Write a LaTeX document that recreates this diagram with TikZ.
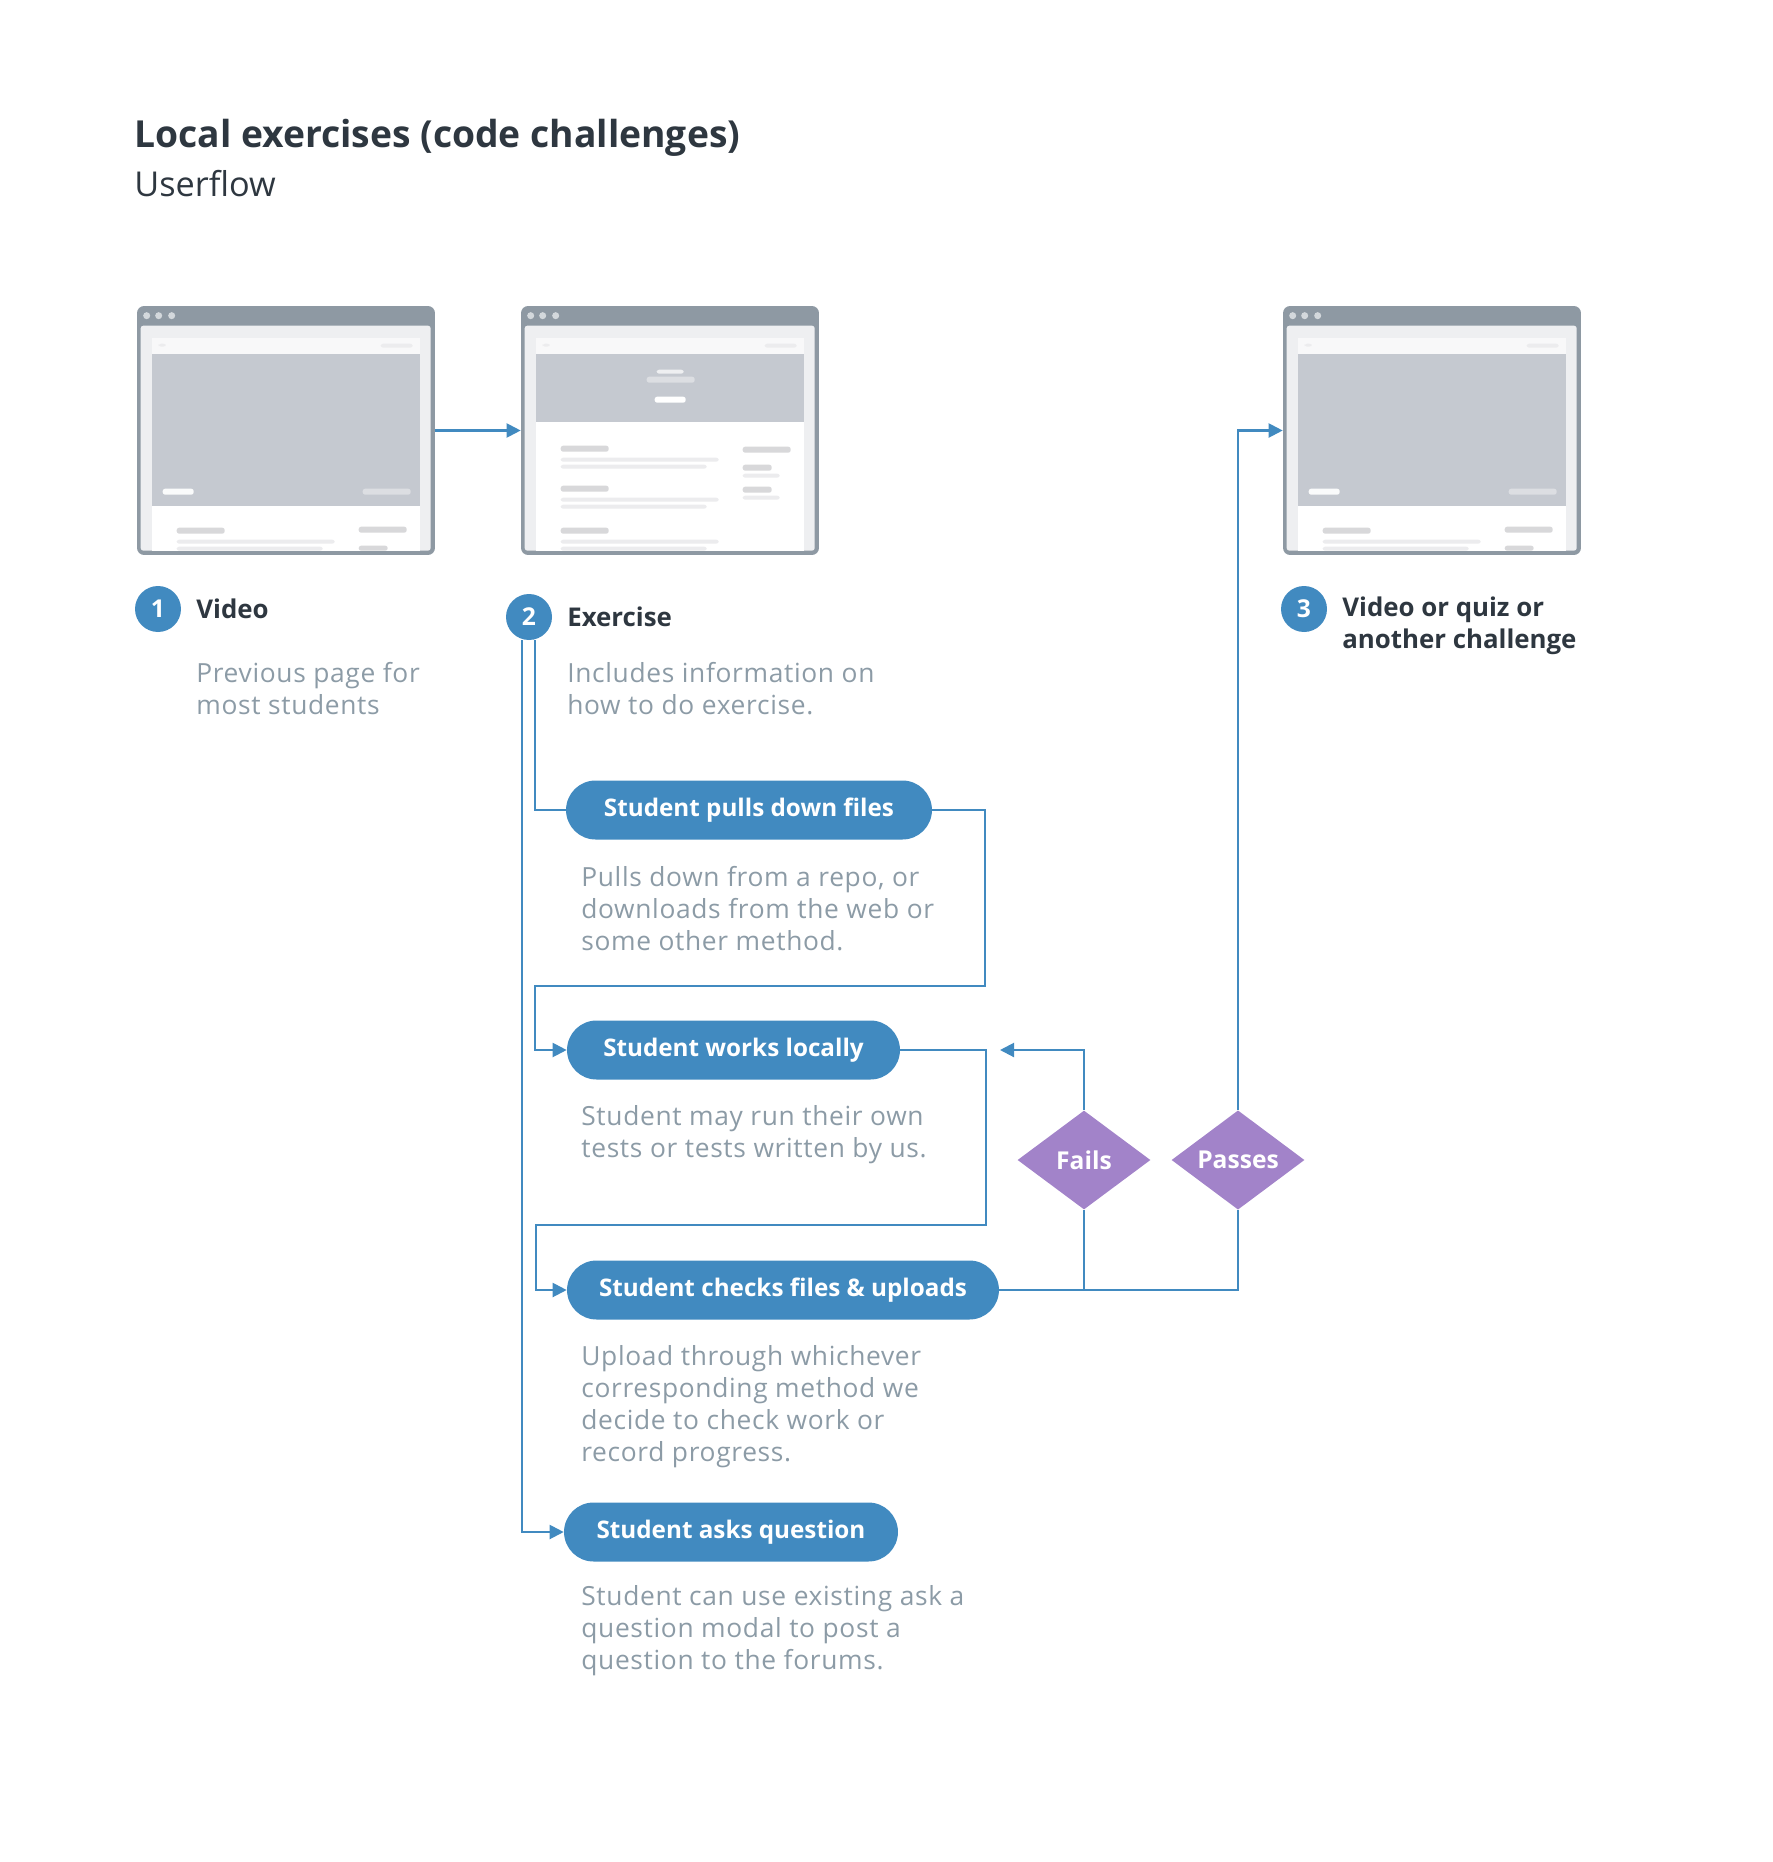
\documentclass[tikz,border=0pt]{standalone}
\usepackage{fontspec}
\setmainfont{Open Sans}
\usetikzlibrary{arrows.meta,shapes.geometric}

\definecolor{flowblue}{HTML}{418AC0}
\definecolor{decide}{HTML}{A283C9}
\definecolor{ink}{HTML}{2E3740}
\definecolor{notegray}{HTML}{8C9BA6}
\definecolor{framegray}{HTML}{8E99A3}
\definecolor{chrome}{HTML}{EEEFF1}
\definecolor{hero}{HTML}{C5C9D0}
\definecolor{navbar}{HTML}{F8F8F9}
\definecolor{dotgray}{HTML}{D3D8DC}
\definecolor{barA}{HTML}{D8D8DA}
\definecolor{barB}{HTML}{ECECEE}
\definecolor{barC}{HTML}{DCDEE2}

\tikzset{
  flow/.style={draw=flowblue, line width=1.2pt},
  tip/.style={-{Triangle[length=8pt,width=8pt]}},
  shot/.style={fill=framegray, rounded corners=4pt, minimum width=5.96cm, minimum height=4.98cm, inner sep=0pt},
  bar/.style={rounded corners=1.4pt},
  numdot/.style={circle, fill=flowblue, text=white, font=\bfseries\fontsize{14}{16}\selectfont, minimum size=0.92cm, inner sep=0pt},
  head/.style={anchor=west, align=left, text=ink, inner sep=0pt, font=\bfseries\fontsize{14.7}{18.2}\selectfont},
  desc/.style={anchor=west, align=left, text=notegray, inner sep=0pt, font=\fontsize{15}{18.2}\selectfont\addfontfeature{LetterSpace=2.5}},
  pill/.style={fill=flowblue, text=white, rounded corners=0.59cm, minimum height=1.18cm, inner sep=0pt, font=\bfseries\fontsize{13.8}{17}\selectfont},
  decision/.style={diamond, fill=decide, text=white, minimum width=2.66cm, minimum height=1.98cm, inner sep=0pt, font=\bfseries\fontsize{14}{17}\selectfont}
}

% browser window, drawn from its top left corner
\newcommand{\browserchrome}{%
  \fill[chrome, rounded corners=1.5pt] (4,20) rectangle (294,245);
  \foreach \dx in {10,22,35} \fill[dotgray] (\dx,10) circle (2pt);
  \fill[white] (15,32) rectangle (283,245);
  \fill[navbar] (15,32) rectangle (283,48);
  \fill[barB, bar] (22,38) rectangle (29,41);
  \fill[barB, bar] (244,38) rectangle (276,42);
}
\newcommand{\videopage}{%
  \fill[hero] (15,48) rectangle (283,200);
  \fill[white!92!hero, bar] (26,183) rectangle (57,189);
  \fill[barC, bar] (226,183) rectangle (274,189);
  \fill[barA, bar] (40,222) rectangle (88,228);
  \fill[barA, bar] (222,221) rectangle (270,227);
  \fill[barB, bar] (40,234) rectangle (198,238);
  \fill[barB, bar] (40,241) rectangle (186,245);
  \fill[barA, bar] (222,240) rectangle (251,245);
}

\begin{document}
\begin{tikzpicture}[x=0.02cm, y=-0.02cm]
  \useasboundingbox (0,0) rectangle (1772,1862);

  \node[anchor=west, text=ink, inner sep=0pt, font=\bfseries\fontsize{21.2}{25}\selectfont] (title) at (134,138) {Local exercises (code challenges)};
  \node[anchor=west, text=ink, inner sep=0pt, font=\fontsize{19.5}{24}\selectfont] (subtitle) at (134,184) {Userflow};

  % screens
  \node[shot] (video) at (286,430.5) {};
  \node[shot] (exercise) at (670,430.5) {};
  \node[shot] (next) at (1432,430.5) {};

  \begin{scope}[shift={(video.north west)}]
    \browserchrome
    \videopage
  \end{scope}
  \begin{scope}[shift={(next.north west)}]
    \browserchrome
    \videopage
  \end{scope}
  \begin{scope}[shift={(exercise.north west)}]
    \browserchrome
    \fill[hero] (15,48) rectangle (283,116);
    \fill[chrome, bar] (136,64) rectangle (163,68);
    \fill[barC, bar] (126,71) rectangle (174,77);
    \fill[white, bar] (134,91) rectangle (165,97);
    \foreach \yy in {140,180,222} {
      \fill[barA, bar] (40,\yy) rectangle (88,\yy+6);
      \fill[barB, bar] (40,\yy+12) rectangle (198,\yy+16);
      \fill[barB, bar] (40,\yy+19) rectangle (186,\yy+23);
    }
    \fill[barA, bar] (222,141) rectangle (270,147);
    \fill[barA, bar] (222,159) rectangle (251,165);
    \fill[barB, bar] (222,168) rectangle (259,172);
    \fill[barA, bar] (222,181) rectangle (251,187);
    \fill[barB, bar] (222,190) rectangle (259,194);
  \end{scope}

  % steps
  \node[numdot] (num1) at (158,609) {1};
  \node[head] (head1) at (196,609) {Video};
  \node[desc] (desc1) at (196,689) {Previous page for\\most students};

  \node[numdot] (num2) at (529,617) {2};
  \node[head] (head2) at (567,617) {Exercise};
  \node[desc] (desc2) at (567,689) {Includes information on\\how to do exercise.};

  \node[numdot] (num3) at (1304,609) {3};
  \node[head] (head3) at (1342,626) {Video or quiz or\\another challenge};

  % actions
  \node[pill, minimum width=7.32cm] (pull) at (749,810) {Student pulls down files};
  \node[desc] (pulldesc) at (581,909) {Pulls down from a repo, or\\downloads from the web or\\some other method.};

  \node[pill, minimum width=6.66cm] (work) at (733.5,1050) {Student works locally};
  \node[desc] (workdesc) at (581,1135) {Student may run their own\\tests or tests written by us.};

  \node[pill, minimum width=8.64cm] (check) at (783,1290) {Student checks files \& uploads};
  \node[desc] (checkdesc) at (581,1407) {Upload through whichever\\corresponding method we\\decide to check work or\\record progress.};

  \node[pill, minimum width=6.68cm] (ask) at (731,1532) {Student asks question};
  \node[desc] (askdesc) at (581,1631) {Student can use existing ask a\\question modal to post a\\question to the forums.};

  \node[decision] (fails) at (1084,1160) {Fails};
  \node[decision] (passes) at (1238,1160) {Passes};

  \coordinate (pullturn) at (985,986);
  \coordinate (pullback) at (535,986);
  \coordinate (workturn) at (986,1225);
  \coordinate (workback) at (536,1225);
  \coordinate (retry) at (1000,1050);

  % connectors
  \draw[flow, tip] (video) -- (exercise);
  \draw[flow] ([xshift=0.12cm]num2.south) |- (pull.west);
  \draw[flow, tip] ([xshift=-0.14cm]num2.south) |- (ask.west);
  \draw[flow, tip] (pull.east) -| (pullturn) -- (pullback) |- (work.west);
  \draw[flow, tip] (work.east) -| (workturn) -- (workback) |- (check.west);
  \draw[flow] (check.east) -| (passes.south);
  \draw[flow] (fails.south) -- (fails.south |- check.east);
  \draw[flow, tip] (fails.north) |- (retry);
  \draw[flow, tip] (passes.north) |- (next.west);
\end{tikzpicture}
\end{document}
